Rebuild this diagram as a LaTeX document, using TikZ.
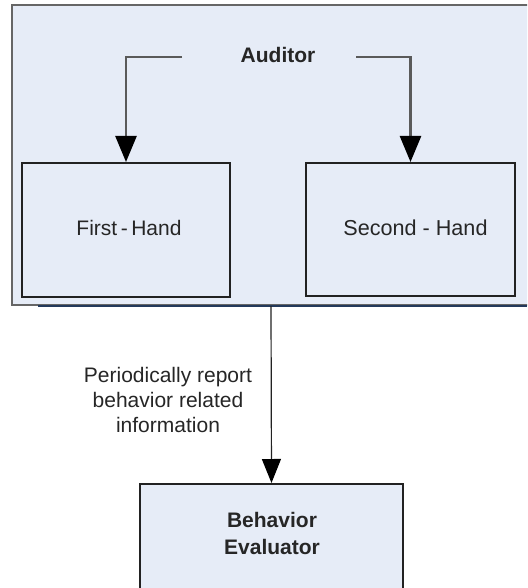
\documentclass[tikz,border=0pt]{standalone}
\usepackage{fontspec}
\setmainfont{Liberation Sans}
\usetikzlibrary{arrows.meta}
\definecolor{boxfill}{HTML}{E6ECF7}
\definecolor{boxline}{HTML}{222222}
\definecolor{frameline}{HTML}{666666}
\definecolor{navyline}{HTML}{23395B}
\definecolor{linkgray}{HTML}{5A5A5A}
\tikzset{
  panel/.style={draw=boxline, line width=2pt, fill=boxfill, inner sep=0pt},
  caption/.style={font=\fontsize{21}{25}\selectfont, text=black!85, inner sep=0pt, align=center},
  bigtip/.style={-{Triangle[length=26pt,width=21pt,color=black,fill=black]}},
  link/.style={draw=linkgray, line width=2.5pt, bigtip},
  report/.style={draw=boxline, line width=1.2pt, -{Triangle[length=24pt,width=19pt,color=black,fill=black]}}
}
\begin{document}
\begin{tikzpicture}[x=1pt,y=-1pt]
  \useasboundingbox (0,0) rectangle (527,588);
  \clip (0,0) rectangle (527,588);
  \fill[white] (0,0) rectangle (527,588);

  % outer auditor frame
  \node[draw=frameline, line width=2pt, fill=boxfill, inner sep=0pt,
        minimum width=530pt, minimum height=300pt] (frame) at (277,155) {};
  \draw[navyline, line width=2.5pt] (38,306) -- (527,306);

  \node[caption, font=\fontsize{21}{25}\selectfont\bfseries] (auditor) at (278,55) {Auditor};

  % the two hand boxes
  \node[panel, minimum width=208pt, minimum height=134pt] (first) at (126,230) {};
  \node[caption] (firstlabel) at (129,228) {First\,-\,Hand};
  \node[panel, minimum width=209pt, minimum height=133pt] (second) at (410.5,229.5) {};
  \node[caption, font=\fontsize{21.6}{25}\selectfont] (secondlabel) at (415.5,228) {Second - Hand};

  \coordinate (audl) at (182,57);
  \coordinate (audr) at (356,57);
  \draw[link] (audl) -| (first.north);
  \draw[link] (audr) -| (second.north);

  % evaluator box
  \node[panel, minimum width=263pt, minimum height=140pt] (behav) at (271.5,554) {};
  \node[caption, font=\fontsize{21}{27}\selectfont\bfseries] (behavlabel) at (272,533) {Behavior\\Evaluator};

  \coordinate (rep) at (271,306);
  \draw[report] (rep) -- (behav.north);
  \node[caption] (replabel) at (168,400) {Periodically report\\behavior related\\information};
\end{tikzpicture}
\end{document}
